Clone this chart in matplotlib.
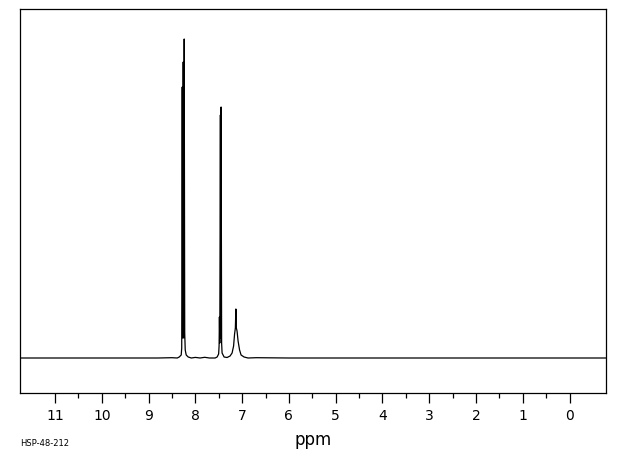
import matplotlib
matplotlib.use("Agg")
import matplotlib.pyplot as plt
from matplotlib.ticker import FixedLocator

# Spectrum vertices (ppm, relative intensity)
ppm = [11.75, 9.50, 8.80, 8.50, 8.388, 8.345, 8.303, 8.292, 8.281, 8.271, 8.260,
       8.249, 8.239, 8.228, 8.217, 8.196, 8.153, 8.087, 8.00, 7.90, 7.80, 7.70,
       7.578, 7.535, 7.503, 7.493, 7.486, 7.478, 7.465, 7.456, 7.450, 7.439,
       7.429, 7.386, 7.322, 7.258, 7.215, 7.183, 7.162, 7.145, 7.134, 7.124,
       7.109, 7.087, 7.055, 7.023, 6.959, 6.874, 6.70, 6.00, 4.00, 2.00, 0.00,
       -0.78]
intensity = [0, 0, 0, 0.3, 0, 1, 3, 10, 271, 20, 296,
             20, 319, 25, 8, 3, 1, 0, 0.6, 0, 0.7, 0,
             0, 1, 4, 12, 41, 15, 243, 20, 251, 15,
             5, 1, 0.5, 2, 5, 12, 24, 30, 49, 30,
             27, 17, 8, 3, 1, 0, 0.3, 0, 0, 0, 0,
             0]

major_ticks = list(range(0, 12))
minor_ticks = [0.5, 1.5, 2.5, 3.5, 4.5, 5.5, 6.5, 7.5, 8.5, 9.5, 10.5]
sample_id = "HSP-48-212"
x_label = "ppm"

fig = plt.figure(figsize=(6.2, 4.55), dpi=100)
ax = fig.add_axes([20 / 620, 1 - 393 / 455, 586 / 620, 384 / 455])
ax.plot(ppm, intensity, color="black", linewidth=0.9)
ax.set_xlim(11.75, -0.78)
ax.set_ylim(-35, 349)

for s in ax.spines.values():
    s.set_linewidth(0.9)
    s.set_color("black")

ax.set_yticks([])
ax.set_xticks(major_ticks)
ax.set_xticklabels([str(t) for t in major_ticks])
ax.xaxis.set_minor_locator(FixedLocator(minor_ticks))
ax.tick_params(axis="x", which="major", direction="out", length=7.2, width=0.9,
               pad=4, labelsize=10)
ax.tick_params(axis="x", which="minor", direction="out", length=3.6, width=0.9)
ax.set_xlabel(x_label, fontsize=12, labelpad=6)

fig.text(20 / 620, 1 - 443 / 455, sample_id, fontsize=6, va="center", ha="left")

fig.savefig("out.png", dpi=100)
